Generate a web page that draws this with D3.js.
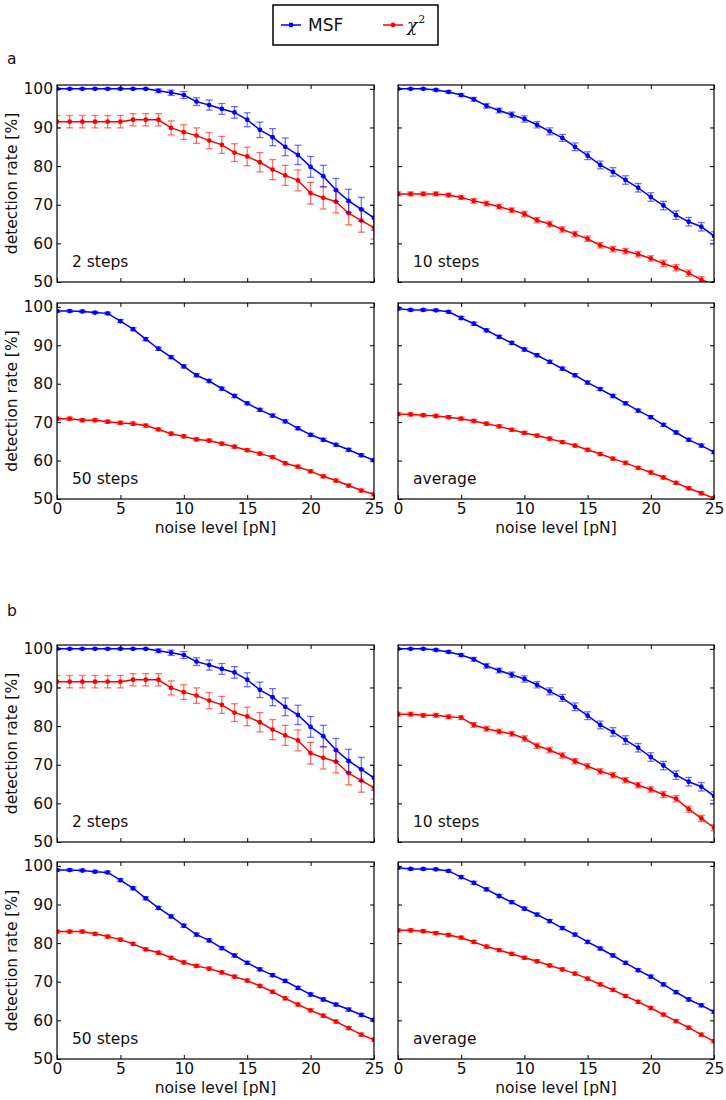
<!DOCTYPE html>
<html>
<head>
<meta charset="utf-8">
<script src="https://cdn.jsdelivr.net/npm/d3@7"></script>
<style>
  html, body { margin: 0; padding: 0; background: #fff; }
  svg { display: block; font-family: "DejaVu Sans", sans-serif; }
</style>
</head>
<body>
<svg id="chart" width="726" height="1100"></svg>
<script>
// ---------- data ----------
const noiseLevels = [0,1,2,3,4,5,6,7,8,9,10,11,12,13,14,15,16,17,18,19,20,21,22,23,24,25];
const yTicks = [50,60,70,80,90,100];
const xTicks = [0,5,10,15,20,25];
const seriesNames = ["MSF", "χ2"];

// 2 steps (same in a and b)
const msf2 = [100,100,100,100,100,100,100,100,99.5,99.0,98.4,96.7,95.8,94.8,93.9,92.0,89.4,87.5,85.0,82.9,79.8,77.4,73.8,71.0,68.8,66.6];
const msf2Err = [0.2,0.2,0.2,0.2,0.2,0.2,0.2,0.2,0.5,0.7,0.9,1.0,1.3,1.4,1.5,1.8,2.0,2.2,2.3,2.5,2.7,2.8,3.0,3.0,3.1,3.2];
const chi2 = [91.5,91.5,91.5,91.5,91.5,91.5,92.0,92.0,92.0,89.9,88.8,87.9,86.6,85.5,83.5,82.5,81.0,79.1,77.6,76.3,73.0,71.8,70.8,67.8,65.9,64.1];
const chi2Err = [1.6,1.6,1.6,1.6,1.6,1.6,1.6,1.6,1.6,1.8,1.9,2.0,2.1,2.2,2.3,2.4,2.5,2.6,2.6,2.7,2.8,2.9,2.9,3.0,3.0,3.0];

// 10 steps
const msf10 = [100,100,100,99.7,99.2,98.4,97.3,95.6,94.4,93.3,92.2,90.7,89.0,87.3,85.0,82.7,80.3,78.5,76.4,74.4,72.0,69.8,67.3,65.6,64.3,61.9];
const msf10Err = [0.2,0.2,0.2,0.3,0.3,0.4,0.5,0.6,0.6,0.7,0.8,0.8,0.9,0.9,1.0,1.0,1.0,1.1,1.1,1.1,1.1,1.1,1.1,1.1,1.1,1.1];
const chiA10 = [72.8,72.8,72.8,72.8,72.5,71.9,71.0,70.3,69.5,68.6,67.6,66.0,65.0,63.6,62.4,61.2,59.5,58.5,58.0,57.2,56.1,54.8,53.7,52.3,50.6,49.3];
const chiB10 = [83.1,83.1,82.8,82.8,82.4,82.2,80.3,79.3,78.6,78.0,76.8,74.9,73.8,72.4,70.9,69.6,68.3,67.3,66.0,64.7,63.6,62.3,61.2,58.5,56.1,53.7];
const chi10Err = [0.5,0.5,0.5,0.5,0.5,0.5,0.6,0.6,0.6,0.6,0.7,0.7,0.7,0.7,0.7,0.7,0.7,0.7,0.7,0.7,0.7,0.8,0.8,0.8,0.8,0.8];

// 50 steps
const msf50 = [98.9,98.9,98.8,98.5,98.3,96.3,94.2,91.6,89.1,86.9,84.5,82.2,80.7,78.7,76.8,74.9,73.2,71.7,70.2,68.4,66.7,65.4,64.1,62.8,61.4,60.1];
const msf50Err = [0.3,0.3,0.3,0.3,0.3,0.4,0.4,0.4,0.4,0.4,0.4,0.4,0.4,0.4,0.4,0.4,0.4,0.4,0.4,0.4,0.4,0.4,0.4,0.4,0.4,0.4];
const chiA50 = [70.9,70.9,70.5,70.5,70.1,69.8,69.6,69.1,68.1,67.0,66.3,65.5,65.2,64.4,63.6,62.7,61.8,60.9,59.3,58.4,57.2,55.9,54.8,53.5,52.2,51.2];
const chiB50 = [83.0,83.0,83.0,82.4,81.7,80.9,79.8,78.4,77.5,76.2,75.0,74.1,73.4,72.4,71.3,70.3,68.9,67.4,65.7,64.1,62.6,61.2,59.7,58.0,56.3,55.0];
const chi50Err = [0.4,0.4,0.4,0.4,0.4,0.4,0.4,0.4,0.4,0.4,0.4,0.4,0.4,0.4,0.4,0.4,0.4,0.4,0.4,0.4,0.4,0.4,0.4,0.4,0.4,0.4];

// average
const msfAvg = [99.5,99.2,99.2,99.1,98.7,97.1,95.6,93.9,92.2,90.6,88.9,87.4,85.7,83.9,82.2,80.3,78.6,76.8,74.9,73.0,71.3,69.3,67.3,65.4,63.9,62.2];
const msfAvgErr = [0.3,0.3,0.3,0.3,0.3,0.4,0.4,0.4,0.4,0.4,0.4,0.4,0.4,0.4,0.4,0.4,0.4,0.4,0.4,0.4,0.4,0.4,0.4,0.4,0.4,0.4];
const chiAAvg = [72.1,72.0,71.8,71.6,71.3,70.9,70.3,69.6,68.9,68.0,67.2,66.5,65.7,64.8,63.9,62.8,61.7,60.5,59.4,58.1,56.9,55.6,54.2,52.8,51.5,50.2];
const chiBAvg = [83.3,83.3,83.1,82.6,82.1,81.4,80.3,79.1,78.2,77.2,76.2,75.3,74.2,73.2,72.1,70.8,69.3,67.9,66.3,64.8,63.2,61.5,59.8,58.1,56.3,54.6];
const chiAvgErr = [0.4,0.4,0.4,0.4,0.4,0.4,0.4,0.4,0.4,0.4,0.4,0.4,0.4,0.4,0.4,0.4,0.4,0.4,0.4,0.4,0.4,0.4,0.4,0.4,0.4,0.4];

const panelLabels = ["2 steps", "10 steps", "50 steps", "average"];
const groupLabels = ["a", "b"];

// ---------- layout ----------
const BLUE = "#0000ff", RED = "#ff0000";
const colX = [[57, 374], [398, 714]];
const rowY = [[85, 282], [303, 499], [645, 842], [862, 1059]];
const FONT = 15.5;

const panels = [
  // group a
  {row:0, col:0, label:panelLabels[0], msf:msf2, msfErr:msf2Err, chi:chi2, chiErr:chi2Err},
  {row:0, col:1, label:panelLabels[1], msf:msf10, msfErr:msf10Err, chi:chiA10, chiErr:chi10Err},
  {row:1, col:0, label:panelLabels[2], msf:msf50, msfErr:msf50Err, chi:chiA50, chiErr:chi50Err},
  {row:1, col:1, label:panelLabels[3], msf:msfAvg, msfErr:msfAvgErr, chi:chiAAvg, chiErr:chiAvgErr},
  // group b
  {row:2, col:0, label:panelLabels[0], msf:msf2, msfErr:msf2Err, chi:chi2, chiErr:chi2Err},
  {row:2, col:1, label:panelLabels[1], msf:msf10, msfErr:msf10Err, chi:chiB10, chiErr:chi10Err},
  {row:3, col:0, label:panelLabels[2], msf:msf50, msfErr:msf50Err, chi:chiB50, chiErr:chi50Err},
  {row:3, col:1, label:panelLabels[3], msf:msfAvg, msfErr:msfAvgErr, chi:chiBAvg, chiErr:chiAvgErr},
];

const svg = d3.select("#chart");
const defs = svg.append("defs");

panels.forEach((p, i) => {
  const [x0, x1] = colX[p.col];
  const [y0, y1] = rowY[p.row];
  const x = d3.scaleLinear().domain([0, 25]).range([x0, x1]);
  const y = d3.scaleLinear().domain([50, 101]).range([y1, y0]);
  const g = svg.append("g");
  const clipId = "clip" + i;
  defs.append("clipPath").attr("id", clipId)
    .append("rect").attr("x", x0).attr("y", y0).attr("width", x1 - x0).attr("height", y1 - y0);

  const plot = g.append("g").attr("clip-path", `url(#${clipId})`);

  const drawSeries = (vals, errs, color) => {
    const pts = noiseLevels.map((n, k) => ({x: n, v: vals[k], e: errs[k]}));
    const eb = plot.append("g").attr("stroke", color).attr("stroke-opacity", 0.55).attr("stroke-width", 1.3);
    pts.forEach(d => {
      const cx = x(d.x), ya = y(d.v - d.e), yb = y(d.v + d.e);
      eb.append("line").attr("x1", cx).attr("x2", cx).attr("y1", ya).attr("y2", yb);
      eb.append("line").attr("x1", cx - 3.5).attr("x2", cx + 3.5).attr("y1", ya).attr("y2", ya);
      eb.append("line").attr("x1", cx - 3.5).attr("x2", cx + 3.5).attr("y1", yb).attr("y2", yb);
    });
    plot.append("path").datum(pts)
      .attr("fill", "none").attr("stroke", color).attr("stroke-width", 1.5)
      .attr("d", d3.line().x(d => x(d.x)).y(d => y(d.v)));
    plot.append("g").selectAll("circle").data(pts).join("circle")
      .attr("cx", d => x(d.x)).attr("cy", d => y(d.v)).attr("r", 2.4).attr("fill", color);
  };
  drawSeries(p.chi, p.chiErr, RED);
  drawSeries(p.msf, p.msfErr, BLUE);

  // axes (inward ticks on all sides)
  const showY = p.col === 0;
  const showX = p.row === 1 || p.row === 3;
  const axL = g.append("g").attr("transform", `translate(${x0},0)`)
    .call(d3.axisLeft(y).tickValues(yTicks).tickSize(-4).tickPadding(4).tickFormat(showY ? d3.format("d") : () => ""));
  const axR = g.append("g").attr("transform", `translate(${x1},0)`)
    .call(d3.axisRight(y).tickValues(yTicks).tickSize(-4).tickFormat(() => ""));
  const axB = g.append("g").attr("transform", `translate(0,${y1})`)
    .call(d3.axisBottom(x).tickValues(xTicks).tickSize(-4).tickPadding(4).tickFormat(showX ? d3.format("d") : () => ""));
  const axT = g.append("g").attr("transform", `translate(0,${y0})`)
    .call(d3.axisTop(x).tickValues(xTicks).tickSize(-4).tickFormat(() => ""));
  [axL, axR, axB, axT].forEach(a => {
    a.select(".domain").remove();
    a.selectAll(".tick line").attr("stroke", "#000").attr("stroke-width", 1);
    a.selectAll("text").attr("font-size", FONT).attr("font-family", "DejaVu Sans").attr("fill", "#111");
  });
  g.append("rect").attr("x", x0).attr("y", y0).attr("width", x1 - x0).attr("height", y1 - y0)
    .attr("fill", "none").attr("stroke", "#000").attr("stroke-width", 1.2);

  g.append("text").attr("x", x0 + 15).attr("y", y1 - 15)
    .attr("font-size", FONT).attr("fill", "#111").text(p.label);

  if (showY) {
    g.append("text")
      .attr("transform", `translate(17,${(y0 + y1) / 2}) rotate(-90)`)
      .attr("text-anchor", "middle").attr("font-size", FONT).attr("fill", "#111")
      .text("detection rate [%]");
  }
  if (showX) {
    g.append("text").attr("x", (x0 + x1) / 2).attr("y", y1 + 34)
      .attr("text-anchor", "middle").attr("font-size", FONT).attr("fill", "#111")
      .text("noise level [pN]");
  }
});

// group labels
svg.append("text").attr("x", 7).attr("y", 64).attr("font-size", FONT).attr("fill", "#111").text(groupLabels[0]);
svg.append("text").attr("x", 7).attr("y", 616).attr("font-size", FONT).attr("fill", "#111").text(groupLabels[1]);

// legend
const lg = svg.append("g");
lg.append("rect").attr("x", 273).attr("y", 5).attr("width", 165).attr("height", 40)
  .attr("fill", "#fff").attr("stroke", "#000").attr("stroke-width", 1.5);
[[281, BLUE], [383, RED]].forEach(([lx, c]) => {
  lg.append("line").attr("x1", lx).attr("x2", lx + 20).attr("y1", 25).attr("y2", 25)
    .attr("stroke", c).attr("stroke-width", 1.5);
  lg.append("circle").attr("cx", lx + 10).attr("cy", 25).attr("r", 2.4).attr("fill", c);
});
lg.append("text").attr("x", 308).attr("y", 31).attr("font-size", 17).attr("fill", "#111").text(seriesNames[0]);
const chiT = lg.append("text").attr("x", 407).attr("y", 31).attr("font-size", 17).attr("fill", "#111")
  .attr("font-family", "DejaVu Serif").attr("font-style", "italic");
chiT.append("tspan").text("χ");
chiT.append("tspan").attr("font-size", 11).attr("font-style", "normal").attr("dy", -8).attr("dx", 1).text("2");
</script>
</body>
</html>
